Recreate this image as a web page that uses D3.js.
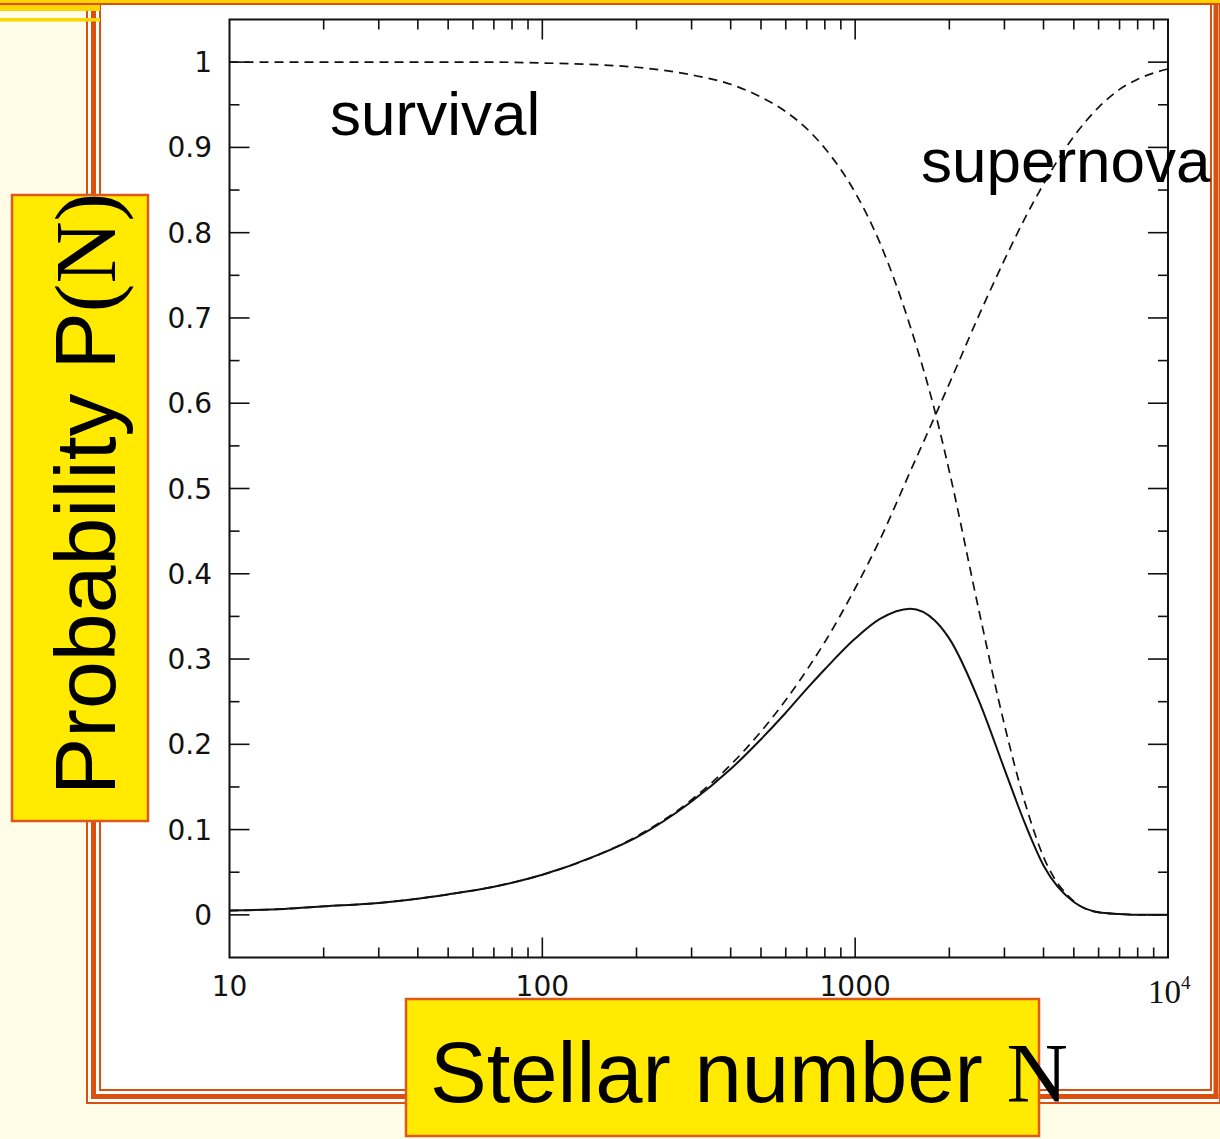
<!DOCTYPE html>
<html>
<head>
<meta charset="utf-8">
<script src="https://cdn.jsdelivr.net/npm/d3@7"></script>
<style>
  html, body { margin: 0; padding: 0; background: #fffde8; }
  svg { display: block; }
</style>
</head>
<body>
<svg id="chart" width="1220" height="1139"></svg>
<script>
// Stellar number N (log axis) and the three probability curves
const stellarN = [10, 15, 20, 30, 40, 50, 70, 100, 150, 200, 300, 400, 500, 600, 700, 800,
                  1000, 1200, 1500, 1800, 2000, 2500, 3000, 3500, 4000, 5000, 6000, 7000, 8000, 10000];

const pSurvival = [1.000, 1.000, 1.000, 1.000, 1.000, 1.000, 1.000, 0.999, 0.997, 0.994, 0.985, 0.974,
                   0.959, 0.942, 0.922, 0.899, 0.847, 0.788, 0.690, 0.590, 0.520, 0.353, 0.223, 0.130,
                   0.068, 0.016, 0.003, 0.001, 0.000, 0.000];

const pSupernova = [0.005, 0.007, 0.010, 0.014, 0.019, 0.024, 0.033, 0.047, 0.070, 0.092, 0.135, 0.176,
                    0.215, 0.252, 0.287, 0.320, 0.383, 0.440, 0.520, 0.585, 0.623, 0.705, 0.768, 0.818,
                    0.857, 0.913, 0.947, 0.968, 0.980, 0.992];

const pJoint = [0.005, 0.007, 0.010, 0.014, 0.019, 0.024, 0.033, 0.047, 0.070, 0.091, 0.133, 0.171,
                0.206, 0.237, 0.265, 0.288, 0.324, 0.347, 0.359, 0.345, 0.324, 0.249, 0.171, 0.106,
                0.058, 0.015, 0.003, 0.001, 0.000, 0.000];

// Axis ticks and their labels
const xMajorTicks = [10, 100, 1000, 10000];
const xTickLabels = ["10", "100", "1000", "10^4"];
const yMajorTicks = [0, 0.1, 0.2, 0.3, 0.4, 0.5, 0.6, 0.7, 0.8, 0.9, 1];
const yTickLabels = ["0", "0.1", "0.2", "0.3", "0.4", "0.5", "0.6", "0.7", "0.8", "0.9", "1"];
const yMinorTicks = [0.05, 0.15, 0.25, 0.35, 0.45, 0.55, 0.65, 0.75, 0.85, 0.95, -0.05 + 0.05 * 0];

const curveLabels = [
  { text: "survival", x: 330, y: 135 },
  { text: "supernova", x: 921, y: 182 }
];

const ORANGE = "#d9500f";
const GOLD = "#ffd400";
const LEMON = "#ffea00";
const INK = "#111";

const svg = d3.select("#chart");

// ---- slide backdrop ----
svg.append("rect").attr("width", 1220).attr("height", 1139).attr("fill", "#fffde8");

// white panel inside the triple border
svg.append("rect").attr("x", 86).attr("y", 0).attr("width", 1134).attr("height", 1104).attr("fill", "#fff");

// top strip
svg.append("rect").attr("x", 0).attr("y", 0).attr("width", 1220).attr("height", 3).attr("fill", GOLD);
svg.append("rect").attr("x", 0).attr("y", 3).attr("width", 1220).attr("height", 2).attr("fill", ORANGE);

// triple border: thin / thick / thin on left, bottom and right
const frame = svg.append("g").attr("fill", ORANGE);
[
  { l: 86, w: 2, b: 1102, r: 1219 },   // outer thin
  { l: 91, w: 5, b: 1094, r: 1213.5 }, // thick
  { l: 99, w: 2, b: 1089, r: 1210 }    // inner thin
].forEach(f => {
  frame.append("rect").attr("x", f.l).attr("y", 5).attr("width", f.w).attr("height", f.b + f.w - 5);
  frame.append("rect").attr("x", f.l).attr("y", f.b).attr("width", f.r + f.w - f.l).attr("height", f.w);
  frame.append("rect").attr("x", f.r).attr("y", 5).attr("width", f.w).attr("height", f.b + f.w - 5);
});

// decorative gold bars at the top-left
svg.append("rect").attr("x", 0).attr("y", 5).attr("width", 100).attr("height", 6).attr("fill", GOLD);
svg.append("rect").attr("x", 0).attr("y", 18).attr("width", 100).attr("height", 3.5).attr("fill", GOLD);

// ---- plot ----
const plot = { left: 229.5, right: 1168, top: 19.5, bottom: 957.5 };

const x = d3.scaleLog().domain([10, 10000]).range([plot.left, plot.right]);
const y = d3.scaleLinear().domain([-0.05, 1.05]).range([plot.bottom, plot.top]);

const g = svg.append("g");

// frame box
g.append("rect")
  .attr("x", plot.left).attr("y", plot.top)
  .attr("width", plot.right - plot.left).attr("height", plot.bottom - plot.top)
  .attr("fill", "none").attr("stroke", INK).attr("stroke-width", 2);

// x ticks (bottom pointing up, top pointing down)
const isMajorX = v => xMajorTicks.some(m => Math.abs(m - v) < 1e-6);
const xAll = x.ticks().filter(v => v > 10 && v < 10000);
const ticks = g.append("g").attr("stroke", INK).attr("stroke-width", 1.6);
xAll.forEach(v => {
  const len = isMajorX(v) ? 20 : 10;
  const px = x(v);
  ticks.append("line").attr("x1", px).attr("x2", px).attr("y1", plot.bottom).attr("y2", plot.bottom - len);
  ticks.append("line").attr("x1", px).attr("x2", px).attr("y1", plot.top).attr("y2", plot.top + len);
});

// y ticks on both sides
const yMinor = d3.range(0.05, 1.0, 0.1);
yMajorTicks.forEach(v => {
  const py = y(v);
  ticks.append("line").attr("x1", plot.left).attr("x2", plot.left + 20).attr("y1", py).attr("y2", py);
  ticks.append("line").attr("x1", plot.right).attr("x2", plot.right - 20).attr("y1", py).attr("y2", py);
});
yMinor.forEach(v => {
  const py = y(v);
  ticks.append("line").attr("x1", plot.left).attr("x2", plot.left + 10).attr("y1", py).attr("y2", py);
  ticks.append("line").attr("x1", plot.right).attr("x2", plot.right - 10).attr("y1", py).attr("y2", py);
});

// y tick labels
g.append("g").selectAll("text").data(yMajorTicks).join("text")
  .attr("x", 212).attr("y", d => y(d)).attr("dy", "0.36em")
  .attr("text-anchor", "end")
  .attr("font-family", "DejaVu Sans").attr("font-size", 28).attr("fill", INK)
  .text((d, i) => yTickLabels[i]);

// x tick labels
xMajorTicks.forEach((v, i) => {
  const lab = xTickLabels[i];
  if (lab.includes("^")) {
    const [base, exp] = lab.split("^");
    const t = g.append("text").attr("x", x(v) - 20).attr("y", 1003)
      .attr("font-family", "Liberation Serif").attr("font-size", 33).attr("fill", INK);
    t.append("tspan").text(base);
    t.append("tspan").attr("font-size", 19).attr("dy", -14).text(exp);
  } else {
    g.append("text").attr("x", x(v)).attr("y", 996)
      .attr("text-anchor", "middle")
      .attr("font-family", "DejaVu Sans").attr("font-size", 28).attr("fill", INK)
      .text(lab);
  }
});

// curves
const line = d3.line()
  .x(d => x(d[0]))
  .y(d => y(d[1]))
  .curve(d3.curveMonotoneX);

const curves = g.append("g").attr("fill", "none").attr("stroke", INK);
curves.append("path")
  .attr("d", line(stellarN.map((n, i) => [n, pSurvival[i]])))
  .attr("stroke-width", 1.7).attr("stroke-dasharray", "9,6");
curves.append("path")
  .attr("d", line(stellarN.map((n, i) => [n, pSupernova[i]])))
  .attr("stroke-width", 1.7).attr("stroke-dasharray", "9,6");
curves.append("path")
  .attr("d", line(stellarN.map((n, i) => [n, pJoint[i]])))
  .attr("stroke-width", 2);

// curve names
svg.append("g").selectAll("text").data(curveLabels).join("text")
  .attr("x", d => d.x).attr("y", d => d.y)
  .attr("font-family", "Liberation Sans").attr("font-size", 62).attr("fill", "#000")
  .text(d => d.text);

// ---- axis title boxes ----
svg.append("rect").attr("x", 12).attr("y", 195).attr("width", 136).attr("height", 626)
  .attr("fill", LEMON).attr("stroke", "#e0581c").attr("stroke-width", 2.5);
const yTitle = svg.append("text")
  .attr("transform", "translate(115,795) rotate(-90)")
  .attr("font-size", 86).attr("fill", "#000");
yTitle.append("tspan").attr("font-family", "Liberation Sans").text("Probability P");
yTitle.append("tspan").attr("font-family", "Liberation Serif").text("(N)");

svg.append("rect").attr("x", 406).attr("y", 999).attr("width", 633).attr("height", 137)
  .attr("fill", LEMON).attr("stroke", "#e0581c").attr("stroke-width", 2.5);
const xTitle = svg.append("text")
  .attr("x", 430).attr("y", 1102)
  .attr("font-size", 85).attr("fill", "#000");
xTitle.append("tspan").attr("font-family", "Liberation Sans").text("Stellar number ");
xTitle.append("tspan").attr("font-family", "Liberation Serif").text("N");
</script>
</body>
</html>
